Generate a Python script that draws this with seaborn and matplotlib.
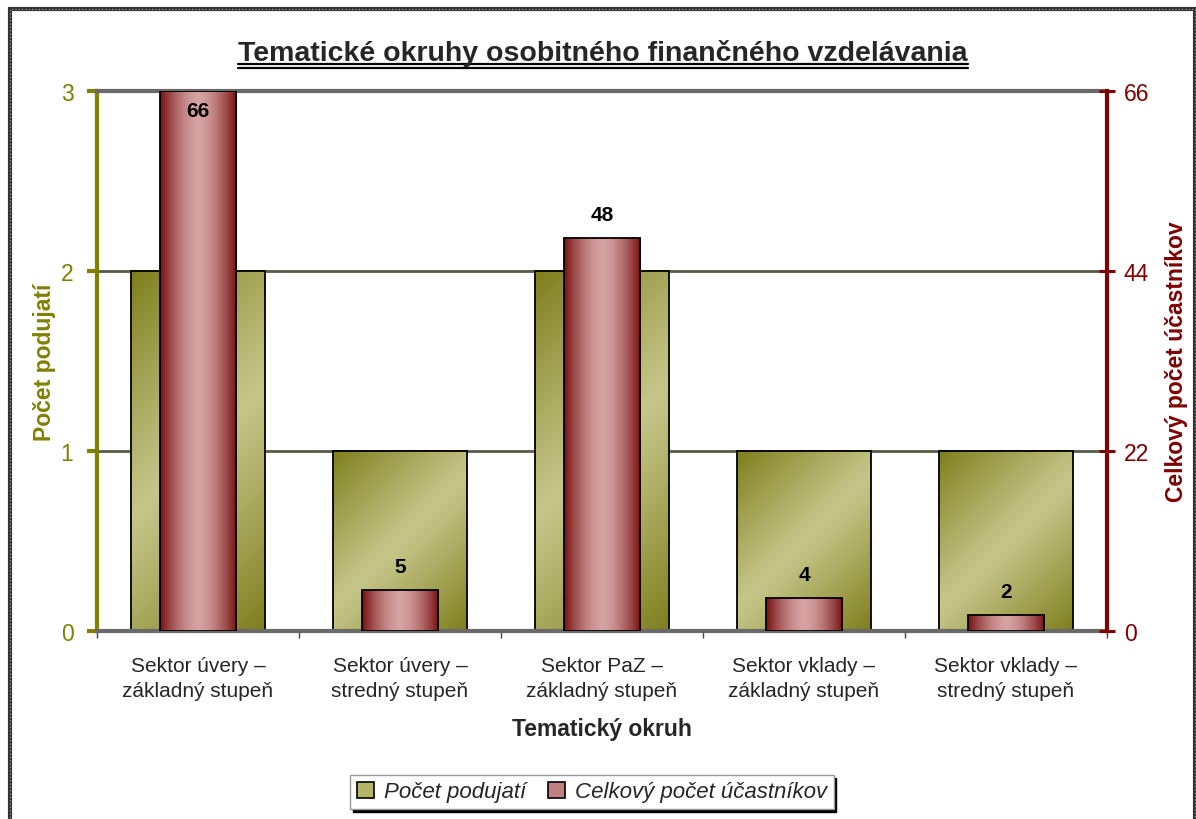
import numpy as np
import pandas as pd
import matplotlib
matplotlib.use("Agg")
import matplotlib.pyplot as plt
import matplotlib.font_manager as fm
from matplotlib.patches import Patch, Rectangle
from matplotlib.lines import Line2D
from matplotlib.ticker import FixedLocator
import seaborn as sns

# ---- data ----
categories = [
    "Sektor úvery –\nzákladný stupeň",
    "Sektor úvery –\nstredný stupeň",
    "Sektor PaZ –\nzákladný stupeň",
    "Sektor vklady –\nzákladný stupeň",
    "Sektor vklady –\nstredný stupeň",
]
pocet_podujati = [2, 1, 2, 1, 1]
pocet_ucastnikov = [66, 5, 48, 4, 2]
left_ticks = [0, 1, 2, 3]
right_ticks = [0, 22, 44, 66]

title = "Tematické okruhy osobitného finančného vzdelávania"
xlabel = "Tematický okruh"
ylabel_left = "Počet podujatí"
ylabel_right = "Celkový počet účastníkov"
legend_labels = ["Počet podujatí", "Celkový počet účastníkov"]

OLIVE = "#808000"
DARKRED = "#800000"
OLIVE_DARK = np.array([0x7e, 0x7e, 0x1c]) / 255
OLIVE_LIGHT = np.array([0xc6, 0xc6, 0x8a]) / 255
RED_DARK = np.array([0x78, 0x12, 0x12]) / 255
RED_LIGHT = np.array([0xd6, 0xa2, 0xa2]) / 255

sns.set_style("white")
names = {f.name for f in fm.fontManager.ttflist}
base = "Liberation Sans" if "Liberation Sans" in names else "DejaVu Sans"
narrow = "Liberation Sans Narrow" if "Liberation Sans Narrow" in names else base
plt.rcParams["font.family"] = [base, "DejaVu Sans"]

W_PX, H_PX = 1196, 820
fig = plt.figure(figsize=(W_PX / 100, H_PX / 100), dpi=100)
ax = fig.add_axes([97 / W_PX, 1 - 632 / H_PX, 1010 / W_PX, 540 / H_PX])
ax2 = ax.twinx()

df = pd.DataFrame({"cat": categories, "pod": pocet_podujati, "uc": pocet_ucastnikov})
sns.barplot(data=df, x="cat", y="pod", ax=ax, width=0.663, color=tuple(OLIVE_LIGHT),
            edgecolor="black", linewidth=1.3, saturation=1)
sns.barplot(data=df, x="cat", y="uc", ax=ax2, width=0.38, color=tuple(RED_LIGHT),
            edgecolor="black", linewidth=1.3, saturation=1)

for a in (ax, ax2):
    a.set_xlim(-0.5, len(categories) - 0.5)
ax.set_ylim(0, 3)
ax2.set_ylim(0, 66)
ax.set_zorder(1)
ax2.set_zorder(2)
ax.patch.set_visible(False)

fig.canvas.draw()


def grad_fill(a, patch, kind):
    bb = patch.get_bbox()
    win = patch.get_window_extent()
    W = max(int(round(win.width)), 2)
    H = max(int(round(win.height)), 2)
    if kind == "h":
        t = np.linspace(0, 1, W)[None, :].repeat(H, axis=0)
        v = np.abs(2 * t - 1) ** 1.6
        dark, light = RED_DARK, RED_LIGHT
    else:
        xx, yy = np.meshgrid(np.arange(W), np.arange(H))
        t = (xx + yy) / float(W + H - 2)
        v = np.abs(2 * t - 1) ** 1.1
        dark, light = OLIVE_DARK, OLIVE_LIGHT
    rgb = light[None, None, :] + (dark - light)[None, None, :] * v[:, :, None]
    z = patch.get_zorder()
    im = a.imshow(rgb, extent=(bb.x0, bb.x1, bb.y0, bb.y1), origin="upper",
                  aspect="auto", interpolation="bilinear", zorder=z + 0.1)
    im.set_clip_path(patch)
    patch.set_facecolor("none")
    patch.set_zorder(z + 0.2)


for p in list(ax.patches):
    grad_fill(ax, p, "d")
for p in list(ax2.patches):
    grad_fill(ax2, p, "h")

for a in (ax, ax2):
    a.set_xlim(-0.5, len(categories) - 0.5)
ax.set_ylim(0, 3)
ax2.set_ylim(0, 66)

# grid lines
for v in left_ticks[1:-1]:
    ax.axhline(v, color="#5a5a48", lw=2.0, zorder=0.5)

# spines
for a in (ax, ax2):
    for s in ("top", "bottom", "left", "right"):
        a.spines[s].set_visible(False)
for s in ("top", "bottom"):
    ax.spines[s].set_visible(True)
    ax.spines[s].set_color("#6a6a6a")
    ax.spines[s].set_linewidth(3)
ax.spines["left"].set_visible(True)
ax.spines["left"].set_color(OLIVE)
ax.spines["left"].set_linewidth(3)
ax2.spines["right"].set_visible(True)
ax2.spines["right"].set_color(DARKRED)
ax2.spines["right"].set_linewidth(3)

# ticks
ax.set_yticks(left_ticks)
ax.set_yticklabels([str(t) for t in left_ticks], color=OLIVE, fontsize=16.5, family=[narrow, "DejaVu Sans"])
ax.tick_params(axis="y", which="major", direction="out", length=7, width=3, color=OLIVE, pad=10, left=True)
ax2.set_yticks(right_ticks)
ax2.set_yticklabels([str(t) for t in right_ticks], color=DARKRED, fontsize=16.5, family=[narrow, "DejaVu Sans"])
ax2.tick_params(axis="y", which="major", direction="inout", length=12, width=2.2, color=DARKRED, pad=6, right=True)

ax.set_xticks(range(len(categories)))
ax.set_xticklabels(categories, fontsize=15, linespacing=1.4)
ax.tick_params(axis="x", which="major", length=0, pad=18)
ax.xaxis.set_minor_locator(FixedLocator(np.arange(-0.5, len(categories), 1.0)))
ax.tick_params(axis="x", which="minor", direction="out", length=5, width=1, color="#444444", bottom=True)
ax2.tick_params(axis="x", which="both", length=0, labelbottom=False)
ax2.set_xlabel("")

ax.set_xlabel(xlabel, fontsize=16.5, fontweight="bold", labelpad=12)
ax.set_ylabel("")
ax2.set_ylabel("")
fig.text(44 / W_PX, 1 - 362 / H_PX, ylabel_left, rotation=90, ha="center", va="center",
         fontsize=16.5, fontweight="bold", color=OLIVE)
fig.text(1176 / W_PX, 1 - 362 / H_PX, ylabel_right, rotation=90, ha="center", va="center",
         fontsize=16.5, fontweight="bold", color=DARKRED)

# data labels
ymax = right_ticks[-1]
for i, v in enumerate(pocet_ucastnikov):
    off = -14 if v >= ymax * 0.97 else 17
    ax2.annotate(str(v), (i, v), xytext=(0, off), textcoords="offset points",
                 ha="center", va="center", fontsize=15, fontweight="bold", color="black", zorder=10)

# title with double underline
t = fig.text(603 / W_PX, 1 - 61 / H_PX, title, ha="center", va="baseline", fontsize=20.5, fontweight="bold")
fig.canvas.draw()
tb = t.get_window_extent()
for ypx in (65, 68.5):
    fig.add_artist(Line2D([tb.x0 / W_PX, tb.x1 / W_PX], [1 - ypx / H_PX] * 2, color="black", lw=1.6,
                          transform=fig.transFigure))

# legend
handles = [Patch(facecolor="#b4b46a", edgecolor="black", lw=1.2),
           Patch(facecolor="#c08080", edgecolor="black", lw=1.2)]
leg = fig.legend(handles, legend_labels, loc="center", bbox_to_anchor=(592 / W_PX, 1 - 793 / H_PX),
                 ncol=2, frameon=True, fancybox=False, shadow={"color": "black", "alpha": 1},
                 prop={"style": "italic", "size": 16}, handlelength=0.75, handleheight=0.75,
                 handletextpad=0.45, columnspacing=1.0, borderpad=0.3, borderaxespad=0)
leg.get_frame().set_edgecolor("#999999")
leg.get_frame().set_linewidth(1)

# figure border
fig.add_artist(Rectangle((9.5 / W_PX, -0.05), (1195 - 9.5) / W_PX, 1 - 9.5 / H_PX + 0.05,
                         transform=fig.transFigure, fill=False, edgecolor="#333333", lw=3))
fig.add_artist(Rectangle((9.5 / W_PX, -0.05), (1195 - 9.5) / W_PX, 1 - 9.5 / H_PX + 0.05,
                         transform=fig.transFigure, fill=False, edgecolor="#aaaaaa", lw=0.8,
                         linestyle=(0, (1, 2))))

fig.savefig("out.png", dpi=100)
